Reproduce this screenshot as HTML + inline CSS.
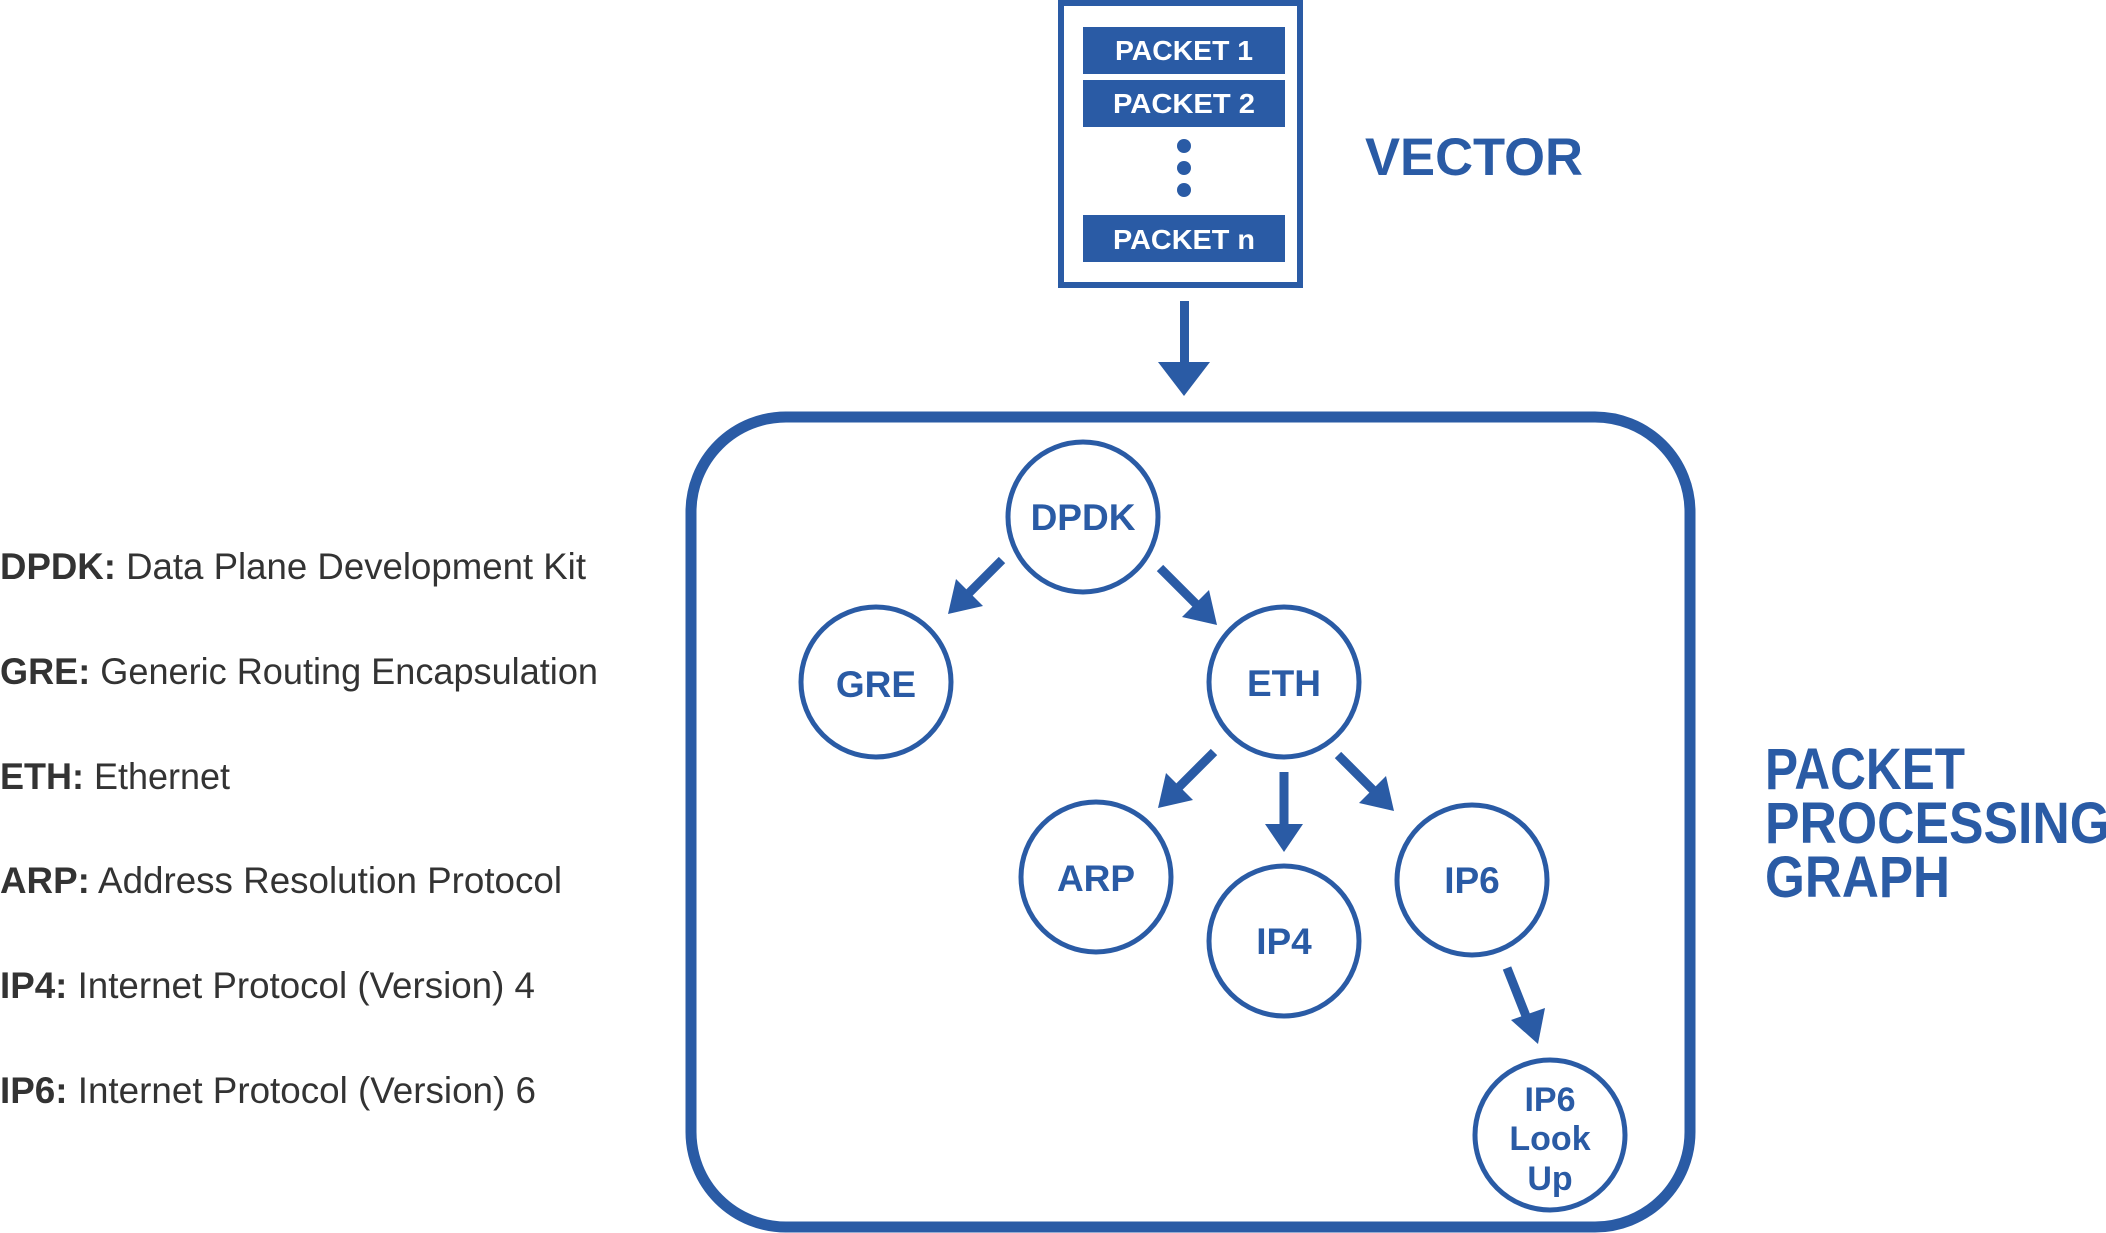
<!DOCTYPE html>
<html><head><meta charset="utf-8"><style>
html,body{margin:0;padding:0;background:#fff;width:2106px;height:1233px;overflow:hidden}
svg{display:block}
text{font-family:"Liberation Sans",sans-serif}
</style></head><body>
<svg width="2106" height="1233" viewBox="0 0 2106 1233" xmlns="http://www.w3.org/2000/svg">
<g fill="#2a5ba5" stroke="none">
<rect x="1061" y="3" width="239" height="282" fill="none" stroke="#2a5ba5" stroke-width="6"/>
<rect x="1083" y="27" width="202" height="47"/>
<rect x="1083" y="80" width="202" height="47"/>
<rect x="1083" y="215" width="202" height="47"/>
<circle cx="1184" cy="146" r="7"/>
<circle cx="1184" cy="168" r="7"/>
<circle cx="1184" cy="190" r="7"/>
<rect x="1180" y="301" width="9" height="63"/>
<polygon points="1158,362 1210,362 1184,396"/>
</g>
<g font-weight="bold" font-size="28" fill="#fff" text-anchor="middle">
<text x="1184" y="60" textLength="138" lengthAdjust="spacingAndGlyphs">PACKET 1</text>
<text x="1184" y="113" textLength="142" lengthAdjust="spacingAndGlyphs">PACKET 2</text>
<text x="1184" y="249" textLength="142" lengthAdjust="spacingAndGlyphs">PACKET n</text>
</g>
<text x="1365" y="175" font-weight="bold" font-size="53" fill="#2a5ba5" textLength="218" lengthAdjust="spacingAndGlyphs">VECTOR</text>
<rect x="691" y="417" width="999" height="810" rx="95" ry="95" fill="none" stroke="#2a5ba5" stroke-width="11"/>
<g fill="none" stroke="#2a5ba5" stroke-width="5">
<circle cx="1083" cy="517" r="75"/>
<circle cx="876" cy="682" r="75"/>
<circle cx="1284" cy="682" r="75"/>
<circle cx="1096" cy="877" r="75"/>
<circle cx="1284" cy="941" r="75"/>
<circle cx="1472" cy="880" r="75"/>
<circle cx="1550" cy="1135" r="75"/>
</g>
<g font-weight="bold" font-size="37" fill="#2a5ba5" text-anchor="middle">
<text x="1083" y="530">DPDK</text>
<text x="876" y="697">GRE</text>
<text x="1284" y="696">ETH</text>
<text x="1096" y="891">ARP</text>
<text x="1284" y="954">IP4</text>
<text x="1472" y="893">IP6</text>
<text x="1550" y="1111" font-size="34">IP6</text>
<text x="1550" y="1150" font-size="34">Look</text>
<text x="1550" y="1190" font-size="34">Up</text>
</g>
<g fill="#2a5ba5" stroke="#2a5ba5">
<line x1="1002" y1="560" x2="965" y2="597" stroke-width="9"/>
<polygon points="948,614 956,579 983,606" stroke="none"/>
<line x1="1160" y1="568" x2="1200" y2="608" stroke-width="9"/>
<polygon points="1217,625 1182,617 1209,590" stroke="none"/>
<line x1="1214" y1="752" x2="1175" y2="791" stroke-width="9"/>
<polygon points="1158,808 1166,773 1193,800" stroke="none"/>
<line x1="1284" y1="772" x2="1284" y2="826" stroke-width="9"/>
<polygon points="1265,824 1303,824 1284,852" stroke="none"/>
<line x1="1338" y1="755" x2="1377" y2="794" stroke-width="9"/>
<polygon points="1394,811 1359,803 1386,776" stroke="none"/>
<line x1="1507" y1="968" x2="1526" y2="1016" stroke-width="9"/>
<polygon points="1538,1044 1511,1020 1545,1008" stroke="none"/>
</g>
<g font-weight="bold" font-size="58" fill="#2a5ba5">
<text x="1765" y="789" textLength="200" lengthAdjust="spacingAndGlyphs">PACKET</text>
<text x="1765" y="843" textLength="345" lengthAdjust="spacingAndGlyphs">PROCESSING</text>
<text x="1765" y="897" textLength="185" lengthAdjust="spacingAndGlyphs">GRAPH</text>
</g>
<g font-size="37" fill="#333">
<text x="0" y="579" textLength="586" lengthAdjust="spacingAndGlyphs"><tspan font-weight="bold">DPDK:</tspan> Data Plane Development Kit</text>
<text x="0" y="684" textLength="598" lengthAdjust="spacingAndGlyphs"><tspan font-weight="bold">GRE:</tspan> Generic Routing Encapsulation</text>
<text x="0" y="789" textLength="230" lengthAdjust="spacingAndGlyphs"><tspan font-weight="bold">ETH:</tspan> Ethernet</text>
<text x="0" y="893" textLength="562" lengthAdjust="spacingAndGlyphs"><tspan font-weight="bold">ARP:</tspan> Address Resolution Protocol</text>
<text x="0" y="998" textLength="535" lengthAdjust="spacingAndGlyphs"><tspan font-weight="bold">IP4:</tspan> Internet Protocol (Version) 4</text>
<text x="0" y="1103" textLength="536" lengthAdjust="spacingAndGlyphs"><tspan font-weight="bold">IP6:</tspan> Internet Protocol (Version) 6</text>
</g>
</svg>
</body></html>
